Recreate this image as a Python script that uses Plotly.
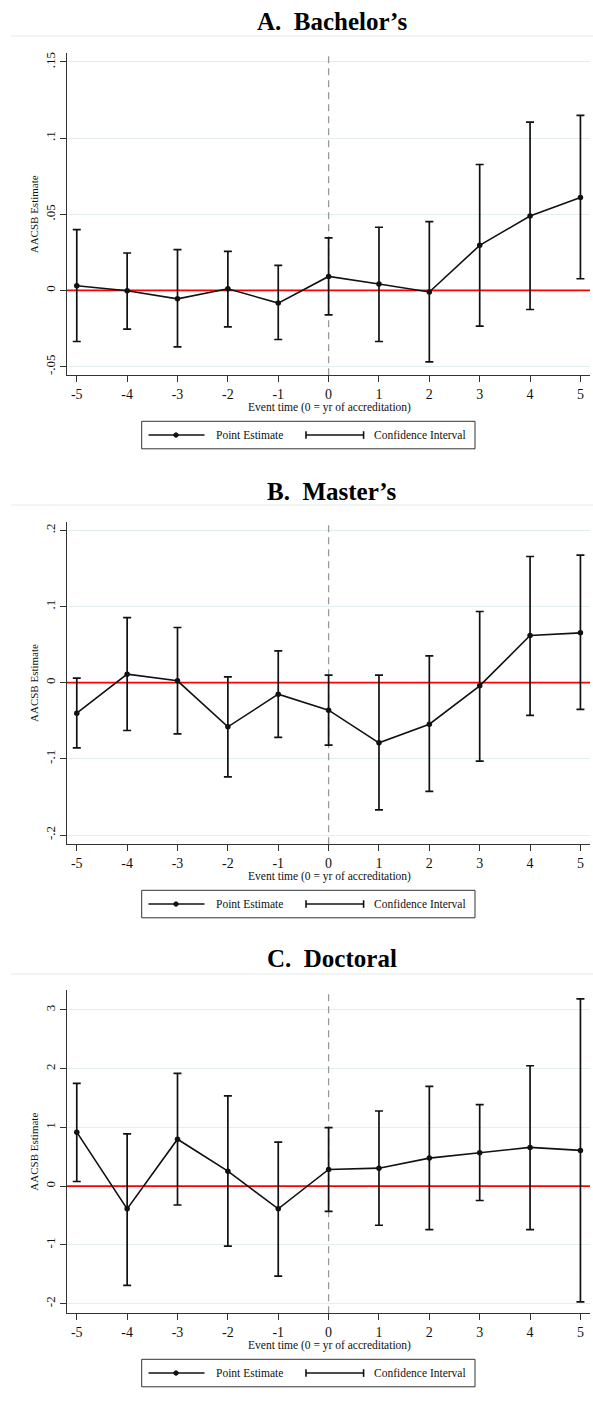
import plotly.graph_objects as go

# ---- data -------------------------------------------------------------
event_time = [-5, -4, -3, -2, -1, 0, 1, 2, 3, 4, 5]

bach_est = [0.0031, -0.0002, -0.0055, 0.0011, -0.0083, 0.0092, 0.0042, -0.0010, 0.0296, 0.0489, 0.0610]
bach_lo = [-0.0335, -0.0254, -0.0370, -0.0239, -0.0322, -0.0160, -0.0335, -0.0469, -0.0234, -0.0125, 0.0077]
bach_hi = [0.0399, 0.0246, 0.0268, 0.0257, 0.0165, 0.0345, 0.0415, 0.0452, 0.0827, 0.1105, 0.1149]

mast_est = [-0.0400, 0.0112, 0.0024, -0.0580, -0.0151, -0.0361, -0.0790, -0.0545, -0.0042, 0.0619, 0.0654]
mast_lo = [-0.0855, -0.0628, -0.0672, -0.1236, -0.0719, -0.0820, -0.1670, -0.1428, -0.1030, -0.0430, -0.0352]
mast_hi = [0.0059, 0.0855, 0.0724, 0.0076, 0.0417, 0.0098, 0.0098, 0.0352, 0.0934, 0.1656, 0.1673]

doc_est = [0.92, -0.386, 0.80, 0.256, -0.386, 0.285, 0.307, 0.478, 0.57, 0.66, 0.609]
doc_lo = [0.08, -1.69, -0.32, -1.02, -1.53, -0.43, -0.665, -0.739, -0.244, -0.739, -1.97]
doc_hi = [1.75, 0.89, 1.92, 1.536, 0.75, 0.997, 1.28, 1.70, 1.39, 2.05, 3.19]

panel_titles = ["A.\u00a0 Bachelor\u2019s", "B.\u00a0 Master\u2019s", "C.\u00a0 Doctoral"]

bach_ticks = [0.15, 0.1, 0.05, 0, -0.05]
bach_tick_text = [".15", ".1", ".05", "0", "-.05"]
mast_ticks = [0.2, 0.1, 0, -0.1, -0.2]
mast_tick_text = [".2", ".1", "0", "-.1", "-.2"]
doc_ticks = [3, 2, 1, 0, -1, -2]
doc_tick_text = ["3", "2", "1", "0", "-1", "-2"]

x_title = "Event time (0 = yr of accreditation)"
y_title = "AACSB Estimate"
legend_labels = ["Point Estimate", "Confidence Interval"]

# ---- page geometry (pixels) ------------------------------------------
W, H = 593, 1402
FONT = "Liberation Serif, Times New Roman, serif"
INK = "#111111"
AXIS = "#333333"
GRID = "#e4edef"
X_RANGE = [-5.2, 5.19]

plot_left, plot_right = 66.7, 590.0
panels = [
    dict(top=53.3, bottom=375.3, title_y=22, rule_y=36, yrange=[-0.0557, 0.1557],
         est=bach_est, lo=bach_lo, hi=bach_hi, ticks=bach_ticks, ticktext=bach_tick_text),
    dict(top=521.7, bottom=844.3, title_y=491, rule_y=505, yrange=[-0.2122, 0.2113],
         est=mast_est, lo=mast_lo, hi=mast_hi, ticks=mast_ticks, ticktext=mast_tick_text),
    dict(top=990.0, bottom=1313.3, title_y=958, rule_y=974, yrange=[-2.164, 3.34],
         est=doc_est, lo=doc_lo, hi=doc_hi, ticks=doc_ticks, ticktext=doc_tick_text),
]


def px(x):
    return x / W


def py(y):
    return 1 - y / H


fig = go.Figure()
shapes = []
annotations = []
layout_axes = {}

for i, p in enumerate(panels, start=1):
    xa = "x" if i == 1 else f"x{i}"
    ya = "y" if i == 1 else f"y{i}"
    xkey = "xaxis" if i == 1 else f"xaxis{i}"
    ykey = "yaxis" if i == 1 else f"yaxis{i}"

    up = [h - e for h, e in zip(p["hi"], p["est"])]
    down = [e - l for e, l in zip(p["est"], p["lo"])]

    # accreditation year (dashed) and zero-effect line (red), under the estimates
    fig.add_trace(go.Scatter(
        x=[0, 0], y=p["yrange"], mode="lines", xaxis=xa, yaxis=ya,
        line=dict(color="#999999", width=1.3, dash="7px,5px"),
        showlegend=False, hoverinfo="skip"))
    fig.add_trace(go.Scatter(
        x=X_RANGE, y=[0, 0], mode="lines", xaxis=xa, yaxis=ya,
        line=dict(color="#ff0000", width=1.8),
        showlegend=False, hoverinfo="skip"))

    # confidence intervals (capped spikes)
    fig.add_trace(go.Scatter(
        x=event_time, y=p["est"], mode="markers", xaxis=xa, yaxis=ya,
        marker=dict(size=1, color="rgba(0,0,0,0)"),
        error_y=dict(type="data", symmetric=False, array=up, arrayminus=down,
                     color=INK, thickness=1.7, width=4),
        showlegend=False, hoverinfo="skip"))
    # point estimates
    fig.add_trace(go.Scatter(
        x=event_time, y=p["est"], mode="lines+markers", xaxis=xa, yaxis=ya,
        line=dict(color=INK, width=1.6),
        marker=dict(size=5.5, color=INK),
        showlegend=False))

    layout_axes[xkey] = dict(
        domain=[px(plot_left), px(plot_right)], anchor=ya,
        range=X_RANGE, tickvals=event_time,
        ticktext=[str(v) for v in event_time],
        showline=True, linecolor=AXIS, linewidth=1,
        ticks="outside", ticklen=6, tickcolor=AXIS, tickwidth=1,
        showgrid=False, zeroline=False,
        tickfont=dict(family=FONT, size=14, color=INK))
    layout_axes[ykey] = dict(
        domain=[py(p["bottom"]), py(p["top"])], anchor=xa,
        range=p["yrange"], tickvals=p["ticks"], ticktext=p["ticktext"],
        tickangle=-90,
        showline=True, linecolor=AXIS, linewidth=1,
        ticks="outside", ticklen=6, tickcolor=AXIS, tickwidth=1,
        showgrid=True, gridcolor=GRID, gridwidth=1.3, zeroline=False,
        tickfont=dict(family=FONT, size=13, color=INK))

    # panel title and rule under it
    annotations.append(dict(text=f"<b>{panel_titles[i-1]}</b>", xref="paper", yref="paper",
                            x=px(332), y=py(p["title_y"]), xanchor="center", yanchor="middle",
                            showarrow=False, font=dict(family=FONT, size=25, color="#000000")))
    shapes.append(dict(type="line", xref="paper", yref="paper", x0=px(11), x1=1,
                       y0=py(p["rule_y"]), y1=py(p["rule_y"]),
                       line=dict(color="#e6ecee", width=1.2)))

    # axis titles
    annotations.append(dict(text=x_title, xref="paper", yref="paper",
                            x=px(329), y=py(p["bottom"] + 32.5), xanchor="center", yanchor="middle",
                            showarrow=False, font=dict(family=FONT, size=11.5, color=INK)))
    annotations.append(dict(text=y_title, xref="paper", yref="paper", textangle=-90,
                            x=px(34), y=py((p["top"] + p["bottom"]) / 2), xanchor="center",
                            yanchor="middle", showarrow=False,
                            font=dict(family=FONT, size=11, color=INK)))

    # legend box
    lt = p["bottom"] + 46
    lb = lt + 27.5
    lm = (lt + lb) / 2
    shapes.append(dict(type="rect", xref="paper", yref="paper", x0=px(141.7), x1=px(475),
                       y0=py(lb), y1=py(lt), line=dict(color=AXIS, width=1)))
    shapes.append(dict(type="line", xref="paper", yref="paper", x0=px(148.5), x1=px(204.5),
                       y0=py(lm), y1=py(lm), line=dict(color=INK, width=1.6)))
    shapes.append(dict(type="circle", xref="paper", yref="paper", x0=px(173.8), x1=px(178.2),
                       y0=py(lm + 2.2), y1=py(lm - 2.2), line=dict(color=INK, width=1),
                       fillcolor=INK))
    shapes.append(dict(type="line", xref="paper", yref="paper", x0=px(306), x1=px(363.6),
                       y0=py(lm), y1=py(lm), line=dict(color=INK, width=1.6)))
    for cx in (306, 363.6):
        shapes.append(dict(type="line", xref="paper", yref="paper", x0=px(cx), x1=px(cx),
                           y0=py(lm - 3.8), y1=py(lm + 3.8), line=dict(color=INK, width=1.6)))
    annotations.append(dict(text=legend_labels[0], xref="paper", yref="paper",
                            x=px(214), y=py(lm), xanchor="left", yanchor="middle",
                            showarrow=False, font=dict(family=FONT, size=11.5, color=INK)))
    annotations.append(dict(text=legend_labels[1], xref="paper", yref="paper",
                            x=px(372), y=py(lm), xanchor="left", yanchor="middle",
                            showarrow=False, font=dict(family=FONT, size=11.5, color=INK)))

fig.update_layout(
    width=W, height=H,
    margin=dict(l=0, r=0, t=0, b=0),
    paper_bgcolor="white", plot_bgcolor="white",
    showlegend=False,
    shapes=shapes, annotations=annotations,
    **layout_axes)

fig.write_html("out.html")
